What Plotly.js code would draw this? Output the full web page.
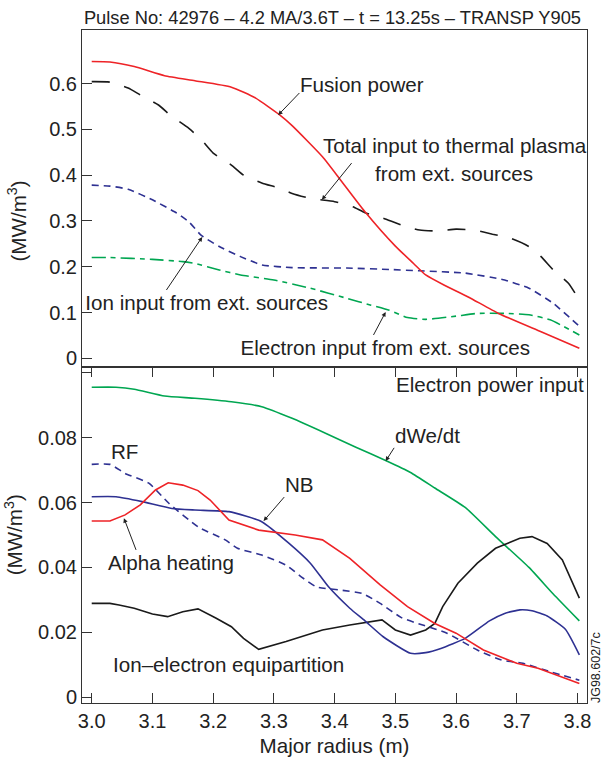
<!DOCTYPE html>
<html>
<head>
<meta charset="utf-8">
<script src="https://cdn.plot.ly/plotly-3.0.1.min.js"></script>
<style>html,body{margin:0;padding:0;background:#fff;}#chart{width:607px;height:758px;}</style>
</head>
<body>
<div id="chart"></div>
<script>
// ---------- data (top panel, MW/m^3) ----------
const fusionX = [3.00,3.03,3.07,3.12,3.17,3.23,3.27,3.31,3.33,3.38,3.41,3.45,3.50,3.53,3.55,3.58,3.62,3.67,3.74,3.803];
const fusionY = [0.648,0.647,0.637,0.617,0.606,0.592,0.568,0.531,0.508,0.440,0.389,0.320,0.245,0.207,0.182,0.160,0.134,0.098,0.058,0.022];

const totalX = [3.00,3.03,3.06,3.08,3.11,3.13,3.16,3.18,3.20,3.23,3.25,3.28,3.31,3.33,3.36,3.40,3.43,3.45,3.48,3.51,3.54,3.57,3.60,3.63,3.66,3.69,3.72,3.74,3.76,3.785,3.803];
const totalY = [0.604,0.603,0.590,0.575,0.553,0.530,0.502,0.478,0.448,0.422,0.400,0.383,0.371,0.360,0.349,0.342,0.331,0.318,0.306,0.291,0.280,0.278,0.282,0.280,0.271,0.262,0.244,0.222,0.193,0.164,0.127];

const ionX = [3.00,3.03,3.06,3.10,3.14,3.16,3.18,3.21,3.245,3.28,3.33,3.42,3.49,3.54,3.615,3.68,3.72,3.76,3.803];
const ionY = [0.378,0.376,0.369,0.346,0.317,0.298,0.269,0.244,0.222,0.204,0.198,0.197,0.194,0.191,0.186,0.171,0.153,0.120,0.070];

const elecX = [3.00,3.03,3.10,3.15,3.17,3.21,3.245,3.30,3.36,3.42,3.46,3.49,3.52,3.55,3.60,3.635,3.68,3.72,3.755,3.803];
const elecY = [0.220,0.220,0.216,0.211,0.207,0.193,0.182,0.171,0.153,0.131,0.116,0.105,0.089,0.085,0.092,0.098,0.098,0.095,0.084,0.051];

// ---------- data (bottom panel, electron power input, MW/m^3) ----------
const dweX = [3.00,3.04,3.07,3.12,3.17,3.23,3.28,3.33,3.385,3.435,3.484,3.525,3.565,3.615,3.665,3.72,3.76,3.803];
const dweY = [0.0956,0.0956,0.0950,0.0929,0.0922,0.0911,0.0896,0.0860,0.0814,0.0771,0.0730,0.0693,0.0645,0.0585,0.0495,0.0400,0.0318,0.0235];

const rfX = [3.00,3.03,3.055,3.094,3.127,3.176,3.22,3.24,3.28,3.32,3.345,3.37,3.41,3.445,3.475,3.51,3.545,3.585,3.635,3.675,3.71,3.755,3.803];
const rfY = [0.0718,0.0718,0.0690,0.0660,0.0598,0.0524,0.0485,0.0459,0.0438,0.0407,0.0371,0.0340,0.0330,0.0320,0.0289,0.0245,0.0222,0.0197,0.0145,0.0114,0.0104,0.0078,0.0052];

const nbX = [3.00,3.04,3.083,3.132,3.17,3.226,3.28,3.325,3.36,3.39,3.425,3.45,3.48,3.525,3.55,3.575,3.615,3.655,3.68,3.705,3.725,3.75,3.78,3.803];
const nbY = [0.0618,0.0618,0.0603,0.0582,0.0577,0.0572,0.0541,0.0474,0.0413,0.0340,0.0274,0.0235,0.0186,0.0135,0.0137,0.0150,0.0181,0.0235,0.0258,0.0269,0.0266,0.0250,0.0209,0.0130];

const alphaX = [3.00,3.03,3.055,3.08,3.105,3.126,3.15,3.175,3.195,3.226,3.275,3.335,3.38,3.425,3.475,3.52,3.565,3.60,3.645,3.70,3.735,3.803];
const alphaY = [0.0543,0.0543,0.0562,0.0593,0.0639,0.0661,0.0654,0.0637,0.0608,0.0546,0.0515,0.0500,0.0485,0.0428,0.0346,0.0279,0.0227,0.0197,0.0145,0.0104,0.0089,0.0042];

const equipX = [3.00,3.03,3.045,3.07,3.10,3.125,3.15,3.175,3.205,3.23,3.25,3.275,3.32,3.38,3.425,3.455,3.478,3.50,3.525,3.55,3.565,3.578,3.603,3.635,3.665,3.705,3.725,3.75,3.775,3.803];
const equipY = [0.0289,0.0289,0.0284,0.0274,0.0256,0.0248,0.0263,0.0272,0.0243,0.0217,0.0181,0.0147,0.0171,0.0207,0.0222,0.0232,0.0238,0.0207,0.0191,0.0207,0.0227,0.0279,0.0351,0.0413,0.0459,0.0490,0.0495,0.0474,0.0423,0.0305];

// ---------- ticks ----------
const xTicks = [3.0,3.1,3.2,3.3,3.4,3.5,3.6,3.7,3.8];
const xTickText = ['3.0','3.1','3.2','3.3','3.4','3.5','3.6','3.7','3.8'];
const topTicks = [0,0.1,0.2,0.3,0.4,0.5,0.6];
const topTickText = ['0','0.1','0.2','0.3','0.4','0.5','0.6'];
const botTicks = [0,0.02,0.04,0.06,0.08];
const botTickText = ['0','0.02','0.04','0.06','0.08'];

const FONT = '"Liberation Sans", Arial, Helvetica, sans-serif';
const RED = '#ee2327', BLUE = '#2e3192', GREEN = '#00a651', BLACK = '#1a1a1a';

function tr(x, y, yax, color, dash, shape) {
  return {x: x, y: y, xaxis: 'x', yaxis: yax, mode: 'lines', hoverinfo: 'skip',
    line: {color: color, width: 1.6, dash: dash || 'solid', shape: shape || 'spline', smoothing: 0.5}};
}
const data = [
  tr(totalX, totalY, 'y2', BLACK, '18px,15px'),
  tr(ionX, ionY, 'y2', BLUE, '7px,5px'),
  tr(elecX, elecY, 'y2', GREEN, '14px,5px,5px,5px'),
  tr(fusionX, fusionY, 'y2', RED),
  tr(dweX, dweY, 'y', GREEN),
  tr(equipX, equipY, 'y', BLACK, 'solid', 'linear'),
  tr(nbX, nbY, 'y', BLUE),
  tr(rfX, rfY, 'y', BLUE, '7px,5px'),
  tr(alphaX, alphaY, 'y', RED, 'solid', 'linear')
];

const axLine = {showline: true, linecolor: '#333', linewidth: 1, zeroline: false, showgrid: false};
const tickFont = {family: FONT, size: 20, color: '#222'};
const labFont = {family: FONT, size: 20.6, color: '#222'};

function lab(text, x, y, yref, xanchor) {
  return {text: text, x: x, y: y, xref: 'x', yref: yref, showarrow: false,
    xanchor: xanchor || 'left', yanchor: 'middle', font: labFont};
}
// label with a pointer: (hx,hy) arrow head on the curve, (tx,ty) arrow tail on the label box edge
function ptr(text, hx, hy, tx, ty, yref, opts) {
  return Object.assign({text: text, x: hx, y: hy, xref: 'x', yref: yref, ax: tx, ay: ty, axref: 'x', ayref: yref,
    showarrow: true, arrowhead: 2, arrowsize: 0.9, arrowwidth: 1, arrowcolor: '#222', standoff: 0,
    font: labFont, borderpad: 1, borderwidth: 0}, opts);
}

const annotations = [
  ptr('Fusion power', 3.307, 0.531, 3.342, 0.5793, 'y2', {xanchor: 'left', yanchor: 'middle', height: 40, valign: 'top'}),
  lab('Total input to thermal plasma', 3.598, 0.4657, 'y2', 'center'),
  ptr('from ext. sources', 3.379, 0.346, 3.428, 0.4262, 'y2', {xanchor: 'left', yanchor: 'middle', height: 44, valign: 'bottom', width: 180, align: 'right'}),
  ptr('Ion input from ext. sources', 3.182, 0.265, 3.123, 0.1491, 'y2', {xanchor: 'center', yanchor: 'top', width: 323, align: 'right'}),
  ptr('Electron input from ext. sources', 3.484, 0.101, 3.464, 0.0509, 'y2', {xanchor: 'center', yanchor: 'top', width: 314, align: 'right'}),
  lab('Electron power input', 3.814, 0.0963, 'y', 'right'),
  ptr('dWe/dt', 3.484, 0.0728, 3.498, 0.0769, 'y', {xanchor: 'left', yanchor: 'bottom'}),
  lab('RF', 3.0285, 0.0759, 'y'),
  ptr('NB', 3.283, 0.0543, 3.317, 0.0617, 'y', {xanchor: 'left', yanchor: 'bottom'}),
  ptr('Alpha heating', 3.053, 0.0552, 3.073, 0.0454, 'y', {xanchor: 'center', yanchor: 'top', width: 196, align: 'right'}),
  lab('Ion\u2013electron equipartition', 3.032, 0.0099, 'y'),
  {text: '(MW/m<sup>3</sup>)', textangle: -90, x: -0.128, y: 0.716, xref: 'paper', yref: 'paper', showarrow: false,
   xanchor: 'center', yanchor: 'middle', font: labFont},
  {text: 'JG98.602/7c', textangle: -90, x: 1.018, y: 0.052, xref: 'paper', yref: 'paper', showarrow: false,
   xanchor: 'center', yanchor: 'middle', font: {family: FONT, size: 12.5, color: '#222'}}
];

const layout = {
  width: 607, height: 758,
  margin: {l: 82, r: 20, t: 30, b: 55, pad: 0},
  paper_bgcolor: '#fff', plot_bgcolor: '#fff',
  showlegend: false,
  font: {family: FONT, color: '#222'},
  title: {text: 'Pulse No: 42976 \u2013 4.2 MA/3.6T \u2013 t = 13.25s \u2013 TRANSP Y905',
          font: {family: FONT, size: 18.3, color: '#222'},
          x: 0.496, xref: 'paper', xanchor: 'center', y: 1 - 18/758, yref: 'container', yanchor: 'middle'},
  xaxis: Object.assign({}, axLine, {domain: [0, 1], anchor: 'y', mirror: 'all', range: [2.984, 3.8156],
    tickvals: xTicks, ticktext: xTickText, ticks: 'inside', ticklen: 10, tickcolor: '#333', tickfont: tickFont,
    title: {text: 'Major radius (m)', font: labFont, standoff: 7}, automargin: false}),
  yaxis: Object.assign({}, axLine, {domain: [0, 0.5], anchor: 'x', mirror: true, range: [-0.00185, 0.1020],
    tickvals: botTicks, ticktext: botTickText, ticks: 'inside', ticklen: 10, tickcolor: '#333', tickfont: tickFont,
    minor: {tick0: 0, dtick: 0.02, ticks: 'inside', ticklen: 10, tickcolor: '#333', showgrid: false},
    title: {text: '(MW/m<sup>3</sup>)', font: labFont, standoff: 9}, automargin: false}),
  yaxis2: Object.assign({}, axLine, {domain: [0.5, 1], anchor: 'x', mirror: true, range: [-0.0179, 0.7168],
    tickvals: topTicks, ticktext: topTickText, ticks: 'inside', ticklen: 10, tickcolor: '#333', tickfont: tickFont}),
  annotations: annotations
};

Plotly.newPlot('chart', data, layout, {displayModeBar: false, staticPlot: true});
</script>
</body>
</html>
